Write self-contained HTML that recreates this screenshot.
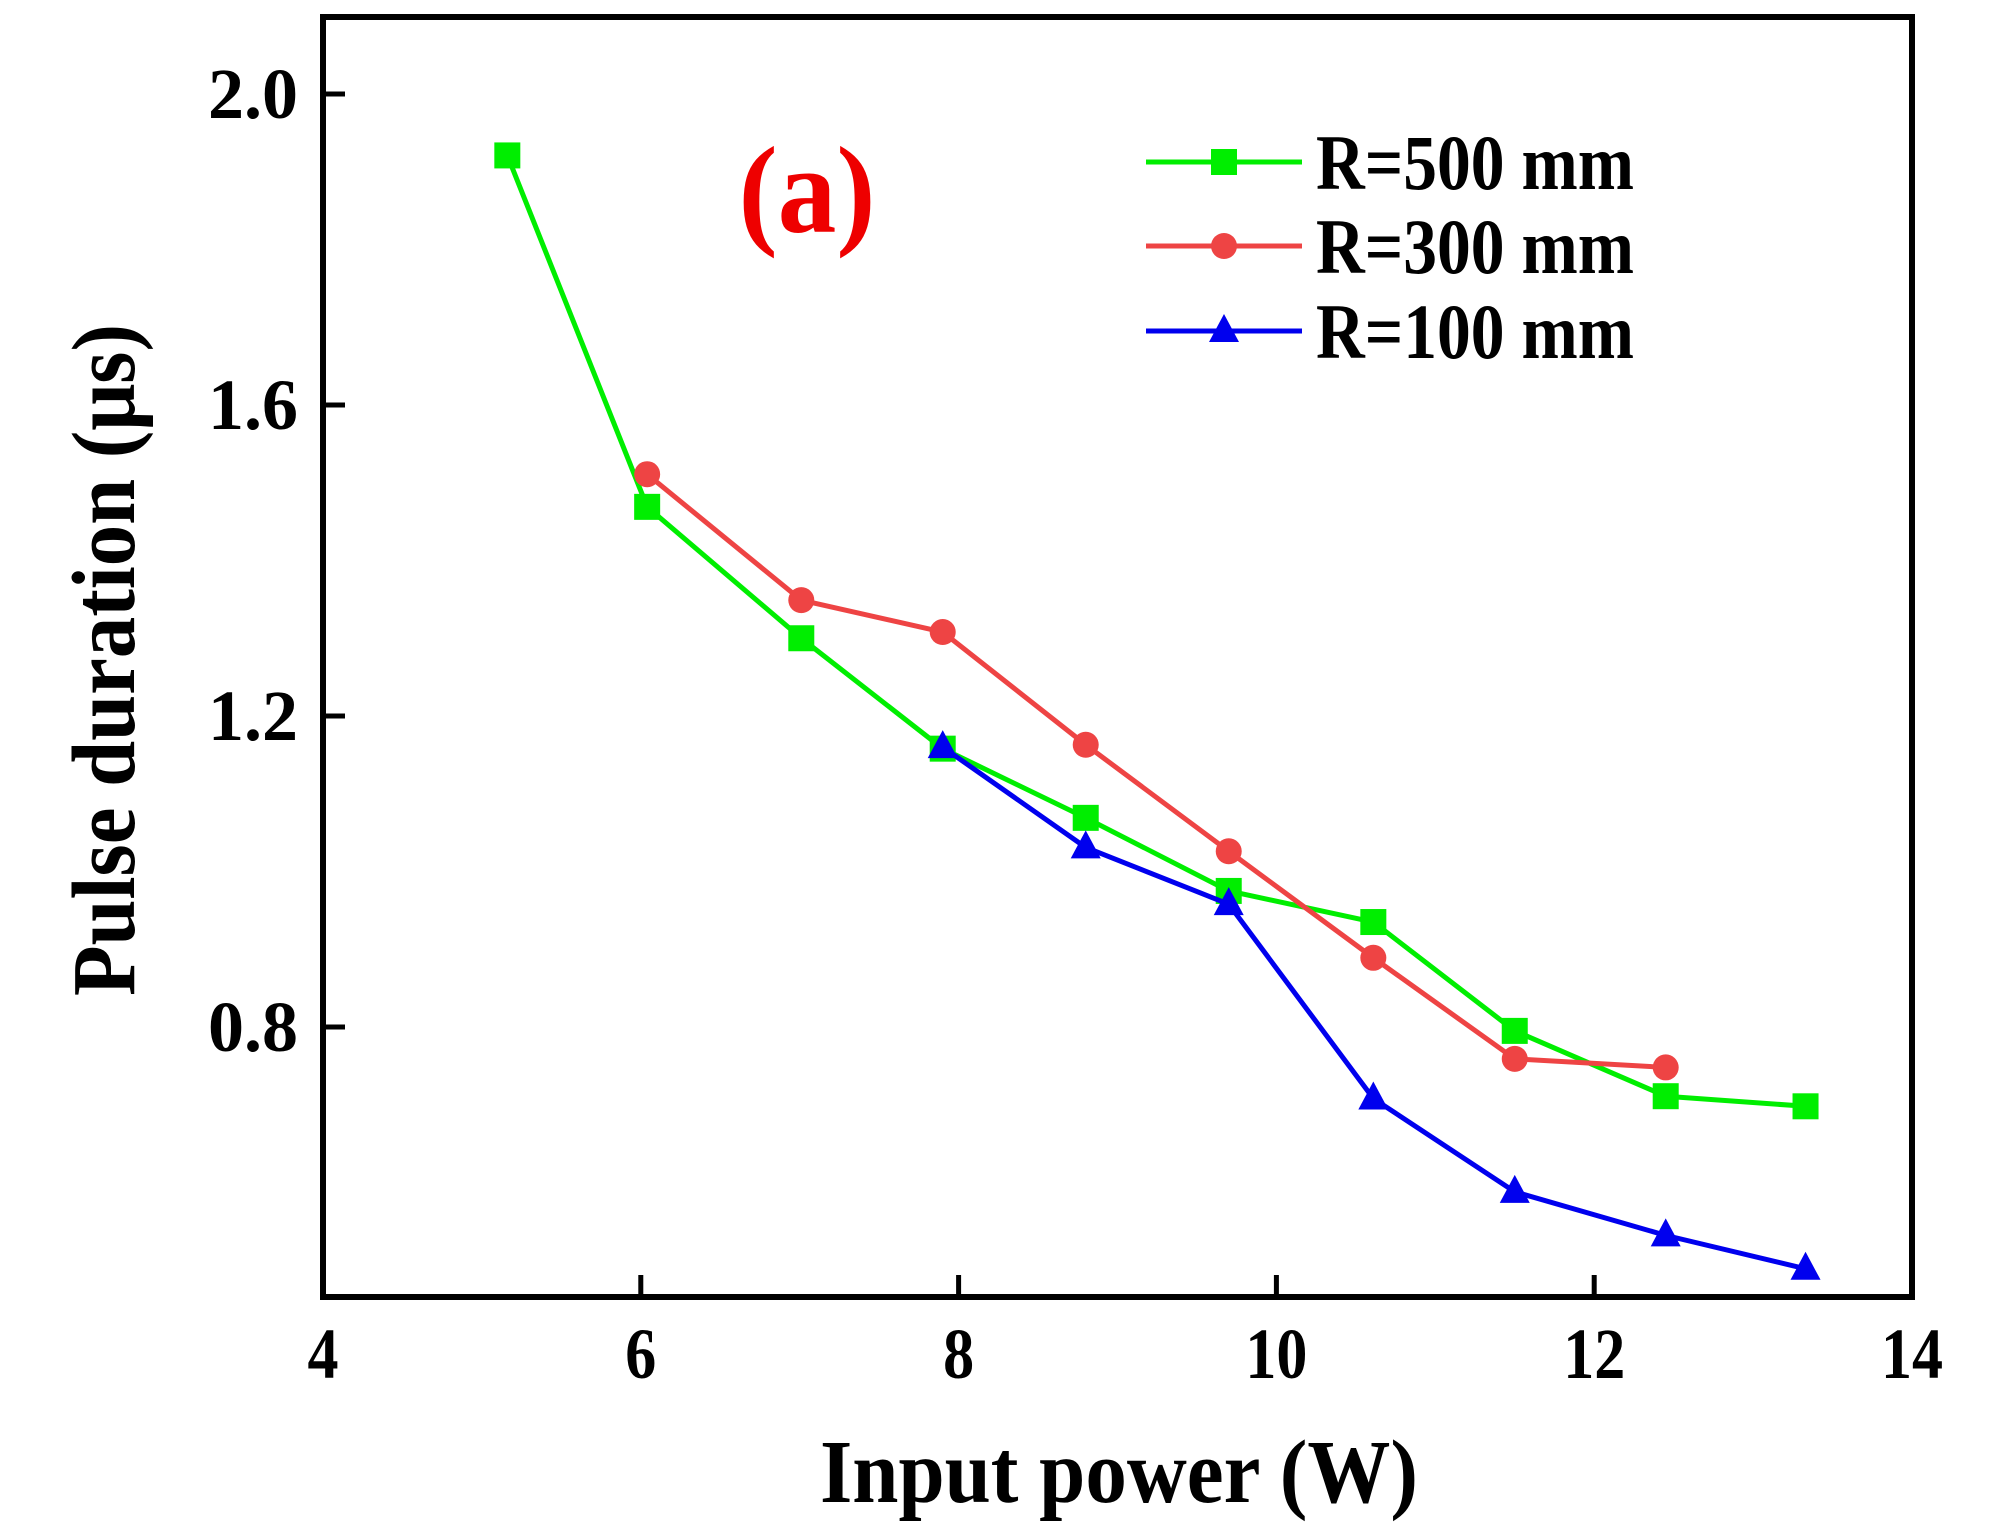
<!DOCTYPE html>
<html><head><meta charset="utf-8"><style>
html,body{margin:0;padding:0;background:#fff;}
svg{display:block;font-family:"Liberation Serif",serif;font-weight:bold;}
</style></head><body>
<svg id="chart" width="2000" height="1531" viewBox="0 0 2000 1531">
<rect x="0" y="0" width="2000" height="1531" fill="#fff"/>
<g id="series"></g>
<rect x="323" y="17" width="1589" height="1280" fill="none" stroke="#000" stroke-width="6"/>
<g id="ticks"></g>
<text x="1119" y="1502" font-size="90" text-anchor="middle" textLength="598" lengthAdjust="spacingAndGlyphs">Input power (W)</text>
<text transform="translate(134,660) rotate(-90)" font-size="90" text-anchor="middle" textLength="672" lengthAdjust="spacingAndGlyphs">Pulse duration (μs)</text>
<text x="807" y="232" font-size="124" fill="#ee0000" text-anchor="middle" textLength="137" lengthAdjust="spacingAndGlyphs">(a)</text>
<g id="legend"></g>
</svg>
<script>
const categoriesX500 = [5.16, 6.04, 7.01, 7.90, 8.80, 9.70, 10.61, 11.50, 12.45, 13.33];
const valuesR500 = [1.921, 1.469, 1.300, 1.158, 1.069, 0.975, 0.935, 0.795, 0.711, 0.698];
const categoriesX300 = [6.04, 7.01, 7.90, 8.80, 9.70, 10.61, 11.50, 12.45];
const valuesR300 = [1.511, 1.349, 1.308, 1.163, 1.026, 0.889, 0.759, 0.748];
const categoriesX100 = [7.90, 8.80, 9.70, 10.61, 11.50, 12.45, 13.33];
const valuesR100 = [1.160, 1.031, 0.958, 0.708, 0.588, 0.532, 0.489];
const xTicks = [4, 6, 8, 10, 12, 14];
const xTickLabels = ["4", "6", "8", "10", "12", "14"];
const yTicks = [0.8, 1.2, 1.6, 2.0];
const yTickLabels = ["0.8", "1.2", "1.6", "2.0"];
const seriesNames = ["R=500 mm", "R=300 mm", "R=100 mm"];

const NS = "http://www.w3.org/2000/svg";
function xs(v){ return 323 + (v - 4) * 158.9; }
function ys(v){ return 94 + (2.0 - v) * 777.5; }
function mk(tag, attrs, parent){
  const e = document.createElementNS(NS, tag);
  for (const k in attrs) e.setAttribute(k, attrs[k]);
  parent.appendChild(e);
  return e;
}
function marker(type, cx, cy, color, parent){
  let e;
  if (type === "square") e = mk("rect", {x: cx-13, y: cy-13, width: 26, height: 26, fill: color}, parent);
  else if (type === "circle") e = mk("circle", {cx: cx, cy: cy, r: 13, fill: color}, parent);
  else e = mk("polygon", {points: `${cx},${cy-17} ${cx-15},${cy+11} ${cx+15},${cy+11}`, fill: color}, parent);
  return e;
}
const sg = document.getElementById("series");
const defs = [
  {xs: categoriesX500, ys: valuesR500, color: "#00ee00", m: "square", name: "series-r500"},
  {xs: categoriesX300, ys: valuesR300, color: "#ee4444", m: "circle", name: "series-r300"},
  {xs: categoriesX100, ys: valuesR100, color: "#0000ee", m: "triangle", name: "series-r100"}
];
defs.forEach(d => {
  const g = mk("g", {}, sg);
  
  
  const pts = d.xs.map((x, i) => xs(x) + "," + ys(d.ys[i])).join(" ");
  const pl = mk("polyline", {points: pts, fill: "none", stroke: d.color, "stroke-width": 5, "stroke-linejoin": "round"}, g);
  
  
  d.xs.forEach((x, i) => {
    const e = marker(d.m, xs(x), ys(d.ys[i]), d.color, g);
    
    
  });
});
const tg = document.getElementById("ticks");
xTicks.forEach((v, i) => {
  if (v > 4 && v < 14) {
    const t = mk("line", {x1: xs(v), x2: xs(v), y1: 1297, y2: 1275, stroke: "#000", "stroke-width": 5}, tg);
    
    
  }
  const tx = mk("text", {x: xs(v), y: 1378, "font-size": 72, "text-anchor": "middle", textLength: xTickLabels[i].length * 31, lengthAdjust: "spacingAndGlyphs"}, tg);
  tx.textContent = xTickLabels[i];
  
  
});
yTicks.forEach((v, i) => {
  const t = mk("line", {x1: 323, x2: 345, y1: ys(v), y2: ys(v), stroke: "#000", "stroke-width": 5}, tg);
  
  
  const tx = mk("text", {x: 298, y: ys(v) + 24, "font-size": 72, "text-anchor": "end", textLength: 90, lengthAdjust: "spacingAndGlyphs"}, tg);
  tx.textContent = yTickLabels[i];
  
  
});
const lg = document.getElementById("legend");


const legY = [162, 246, 331];
defs.forEach((d, i) => {
  const g = mk("g", {}, lg);
  
  
  mk("line", {x1: 1146, x2: 1302, y1: legY[i], y2: legY[i], stroke: d.color, "stroke-width": 5}, g);
  marker(d.m, 1224, legY[i], d.color, g);
  const tx = mk("text", {x: 1316, y: legY[i] + 27, "font-size": 78, textLength: 318, lengthAdjust: "spacingAndGlyphs"}, g);
  tx.textContent = seriesNames[i];
});
</script>
</body></html>
